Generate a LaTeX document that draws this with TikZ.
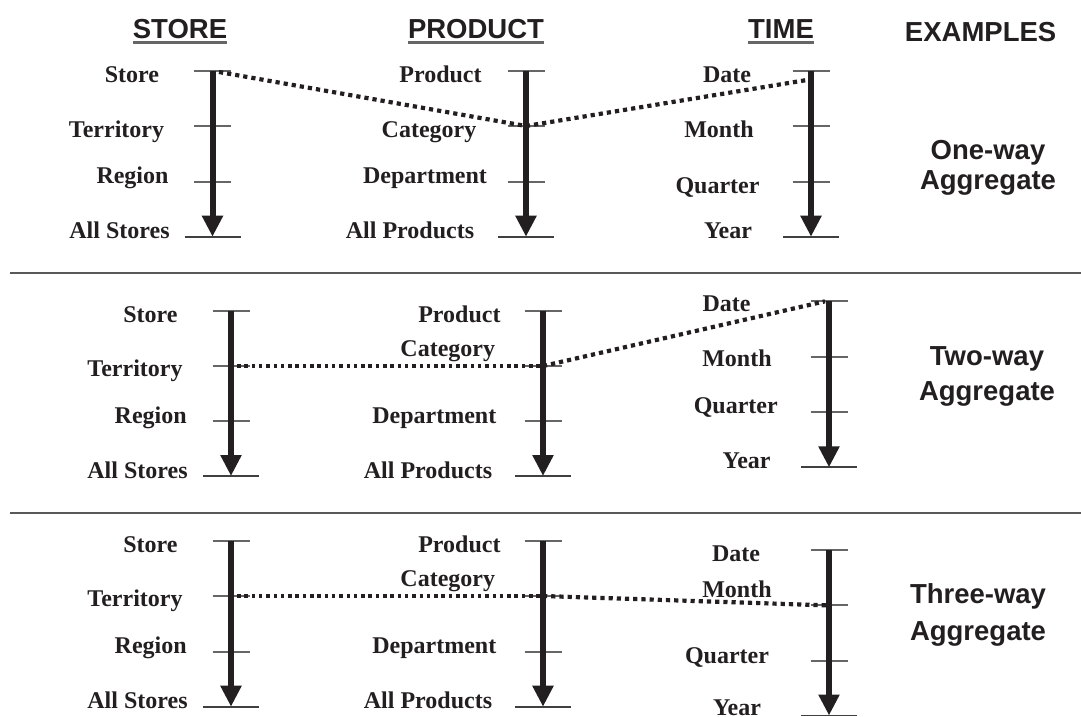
\documentclass[tikz,border=0pt]{standalone}
\usepackage{fontspec}
\setmainfont{Liberation Serif}
\newfontfamily\hsans{Liberation Sans}
\usetikzlibrary{arrows.meta}
\definecolor{ink}{HTML}{231F20}
\newcommand\hiercol[6]{%
  \coordinate (#1-1) at (#2,#3);
  \coordinate (#1-2) at (#2,#4);
  \coordinate (#1-3) at (#2,#5);
  \coordinate (#1-4) at (#2,#6);
  \foreach \k in {1,2,3}{\draw[tickln] ([xshift=-18.5pt]#1-\k) -- ([xshift=18.5pt]#1-\k);}
  \draw[baseln] ([xshift=-28pt]#1-4) -- ([xshift=28pt]#1-4);
  \draw[hierarrow] (#1-1) -- (#1-4);
}
\begin{document}
\begin{tikzpicture}[x=1pt,y=-1pt,
  lbl/.style={anchor=base, inner sep=0pt, text=ink, font=\fontsize{24}{24}\selectfont\bfseries},
  hdr/.style={anchor=base, inner sep=0pt, text=ink, font=\hsans\fontsize{27.5}{28}\selectfont\bfseries},
  tickln/.style={draw=black!60, line width=1.8pt},
  baseln/.style={draw=black!75, line width=1.8pt},
  hierarrow/.style={draw=ink, line width=6pt, -{Triangle[width=20pt,length=21pt]}},
  dotln/.style={draw=ink, line width=4.2pt, dash pattern=on 4.2pt off 4pt},
  dotsm/.style={draw=ink, line width=3.5pt, dash pattern=on 3.5pt off 3.8pt},
  sepln/.style={draw=black!65, line width=2pt},
  uline/.style={draw=black!60, line width=2.5pt}]
\useasboundingbox (0,0) rectangle (1081,716);

% headers
\node[hdr] (hstore) at (180,38.5) {STORE};
\node[hdr] (hprod) at (476,38.5) {PRODUCT};
\node[hdr] (htime) at (781,38.5) {TIME};
\node[hdr] (hex) at (980.6,41.7) {EXAMPLES};
\foreach \h in {hstore,hprod,htime}{\draw[uline] ([yshift=-4pt]\h.base west) -- ([yshift=-4pt]\h.base east);}

% separators
\coordinate (sepa1) at (10,273);
\coordinate (sepa2) at (1081,273);
\coordinate (sepb1) at (10,513.3);
\coordinate (sepb2) at (1081,513.3);
\draw[sepln] (sepa1) -- (sepa2);
\draw[sepln] (sepb1) -- (sepb2);

% ===== Section 1 =====
\hiercol{s1s}{212.5}{71}{126}{181.7}{236.7}
\hiercol{s1p}{526}{71}{126}{181.7}{236.7}
\hiercol{s1t}{811}{71}{126}{181.7}{236.7}
\node[lbl] (l1s1) at (132,82) {Store};
\node[lbl] (l1s2) at (116.5,137) {Territory};
\node[lbl] (l1s3) at (132.5,183) {Region};
\node[lbl] (l1s4) at (119.5,238) {All Stores};
\node[lbl] (l1p1) at (440.5,82) {Product};
\node[lbl] (l1p2) at (429,137) {Category};
\node[lbl] (l1p3) at (425,183) {Department};
\node[lbl] (l1p4) at (410,238) {All Products};
\node[lbl] (l1t1) at (727,82) {Date};
\node[lbl] (l1t2) at (719,137) {Month};
\node[lbl] (l1t3) at (717.5,193) {Quarter};
\node[lbl] (l1t4) at (728,238) {Year};
\node[hdr] (e1a) at (988,159) {One-way};
\node[hdr] (e1b) at (988,189) {Aggregate};
\coordinate (d1a) at (219,72);
\coordinate (d1b) at (807,80);
\draw[dotln] (d1a) -- (s1p-2) -- (d1b);

% ===== Section 2 =====
\hiercol{s2s}{231}{310.7}{366}{420.7}{476}
\hiercol{s2p}{543}{310.7}{366}{420.7}{476}
\hiercol{s2t}{829}{301.3}{356.7}{412}{467.3}
\node[lbl] (l2s1) at (150.5,322) {Store};
\node[lbl] (l2s2) at (135,376.7) {Territory};
\node[lbl] (l2s3) at (150.7,423) {Region};
\node[lbl] (l2s4) at (137.5,478) {All Stores};
\node[lbl] (l2p1) at (459.4,322) {Product};
\node[lbl] (l2p2) at (447.8,356.7) {Category};
\node[lbl] (l2p3) at (434.3,423) {Department};
\node[lbl] (l2p4) at (428,478) {All Products};
\node[lbl] (l2t1) at (726.6,311.7) {Date};
\node[lbl] (l2t2) at (737,366.7) {Month};
\node[lbl] (l2t3) at (735.8,413) {Quarter};
\node[lbl] (l2t4) at (746.6,468) {Year};
\node[hdr] (e2a) at (987,365) {Two-way};
\node[hdr] (e2b) at (987,400) {Aggregate};
\draw[dotsm] ([xshift=6pt]s2s-2) -- (s2p-2);
\draw[dotln] (s2p-2) -- ([xshift=-4pt]s2t-1);

% ===== Section 3 =====
\hiercol{s3s}{231}{540.7}{596}{651.7}{706.7}
\hiercol{s3p}{543}{540.7}{596}{651.7}{706.7}
\hiercol{s3t}{829}{550}{605.3}{660.7}{715.5}
\node[lbl] (l3s1) at (150.5,552) {Store};
\node[lbl] (l3s2) at (135,606.7) {Territory};
\node[lbl] (l3s3) at (150.7,653) {Region};
\node[lbl] (l3s4) at (137.5,708) {All Stores};
\node[lbl] (l3p1) at (459.4,552) {Product};
\node[lbl] (l3p2) at (447.8,586.7) {Category};
\node[lbl] (l3p3) at (434.3,653) {Department};
\node[lbl] (l3p4) at (428,708) {All Products};
\node[lbl] (l3t1) at (736,561) {Date};
\node[lbl] (l3t2) at (737,597.7) {Month};
\node[lbl] (l3t3) at (727,663.4) {Quarter};
\node[lbl] (l3t4) at (737,715) {Year};
\node[hdr] (e3a) at (978,603.3) {Three-way};
\node[hdr] (e3b) at (978,640) {Aggregate};
\draw[dotsm] ([xshift=6pt]s3s-2) -- (s3p-2);
\draw[dotln] (s3p-2) -- ([xshift=-3pt]s3t-2);
\end{tikzpicture}
\end{document}
